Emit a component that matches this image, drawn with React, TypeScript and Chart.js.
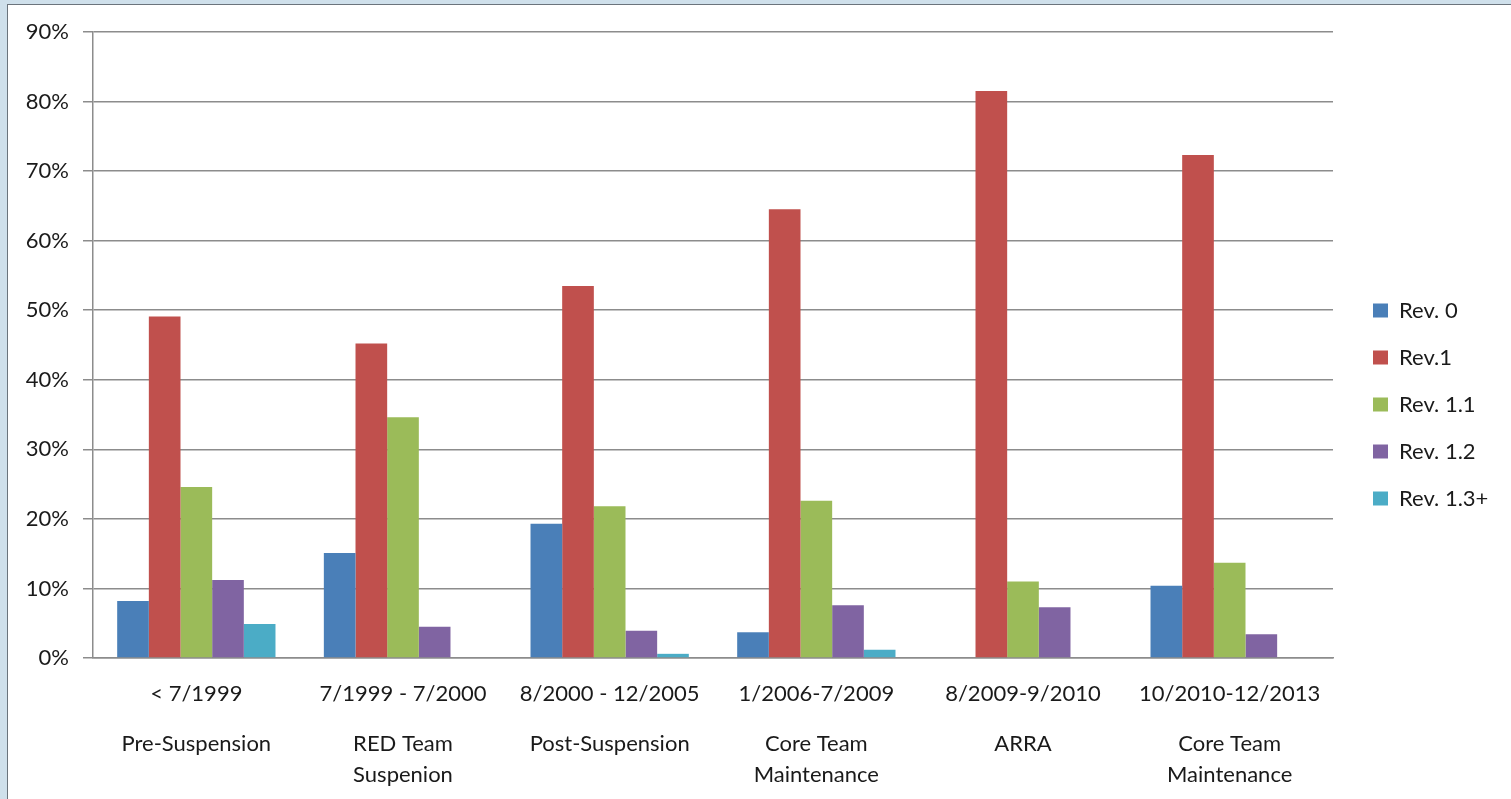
import React, { useEffect, useRef } from "react";
import { Chart, registerables } from "chart.js";

Chart.register(...registerables);

const periods = [
  "< 7/1999",
  "7/1999 - 7/2000",
  "8/2000 - 12/2005",
  "1/2006-7/2009",
  "8/2009-9/2010",
  "10/2010-12/2013",
];
const phases = [
  ["Pre-Suspension"],
  ["RED Team", "Suspenion"],
  ["Post-Suspension"],
  ["Core Team", "Maintenance"],
  ["ARRA"],
  ["Core Team", "Maintenance"],
];
const seriesNames = ["Rev. 0", "Rev.1", "Rev. 1.1", "Rev. 1.2", "Rev. 1.3+"];
const rev0 = [8.2, 15.1, 19.3, 3.7, 0, 10.4];
const rev1 = [49.1, 45.2, 53.5, 64.5, 81.5, 72.3];
const rev11 = [24.6, 34.6, 21.8, 22.6, 11.0, 13.7];
const rev12 = [11.2, 4.5, 3.9, 7.6, 7.3, 3.4];
const rev13 = [4.9, 0, 0.6, 1.2, 0, 0];
const seriesColors = ["#4a7fb8", "#c0504d", "#9bbb59", "#8064a2", "#4bacc6"];
const yMax = 90;
const yStep = 10;

const FONT = 'Lato, "Open Sans", sans-serif';
const TEXT = "#1a1a1a";
const GRID = "#8c8c8c";

export default function App() {
  const ref = useRef<HTMLCanvasElement | null>(null);

  useEffect(() => {
    if (!ref.current) return;
    const seriesData = [rev0, rev1, rev11, rev12, rev13];

    const legendFix = {
      id: "legendFix",
      afterInit(chart: any) {
        const lg = chart.legend;
        if (lg) {
          const orig = lg.fit.bind(lg);
          lg.fit = function () {
            orig();
            this.width = 178;
          };
        }
      },
      afterLayout(chart: any) {
        const lg = chart.legend;
        if (lg) {
          lg.left += 15;
          lg.right += 15;
          lg.top -= 11;
          lg.bottom -= 11;
        }
      },
    };

    const chart = new Chart(ref.current, {
      type: "bar",
      data: {
        labels: periods,
        datasets: seriesNames.map((name, i) => ({
          label: name,
          data: seriesData[i],
          backgroundColor: seriesColors[i],
          borderWidth: 0,
          categoryPercentage: 0.766,
          barPercentage: 1.0,
        })),
      },
      options: {
        responsive: false,
        animation: false,
        layout: { padding: { top: 32, left: 0, right: 0, bottom: 0 } },
        plugins: {
          tooltip: { enabled: false },
          legend: {
            position: "right",
            labels: {
              boxWidth: 15,
              boxHeight: 14,
              padding: 25,
              color: TEXT,
              font: { family: FONT, size: 22 },
            },
          },
        },
        scales: {
          x: {
            type: "category",
            position: "bottom",
            weight: 0,
            grid: { display: false, drawTicks: false },
            border: { display: true, color: GRID, width: 1.5 },
            ticks: {
              color: TEXT,
              font: { family: FONT, size: 22 },
              padding: 23,
              maxRotation: 0,
              autoSkip: false,
            },
            afterFit: (s: any) => {
              s.height = 58;
            },
          },
          x2: {
            type: "category",
            position: "bottom",
            weight: 1,
            labels: phases as any,
            offset: true,
            grid: { display: false, drawTicks: false },
            border: { display: false },
            ticks: {
              color: TEXT,
              font: { family: FONT, size: 22, lineHeight: 1.41 },
              padding: 12,
              maxRotation: 0,
              autoSkip: false,
            },
            afterFit: (s: any) => {
              s.height = 83;
            },
          },
          y: {
            min: 0,
            max: yMax,
            grid: { color: GRID, lineWidth: 1.5, drawTicks: true, tickLength: 10 },
            border: { display: true, color: GRID, width: 1.5 },
            ticks: {
              stepSize: yStep,
              color: TEXT,
              padding: 14,
              font: { family: FONT, size: 22 },
              callback: (v: any) => `${v}%`,
            },
            afterFit: (s: any) => {
              s.width = 93;
            },
          },
        },
      },
      plugins: [legendFix],
    });
    return () => chart.destroy();
  }, []);

  return (
    <div
      style={{
        position: "fixed",
        left: 0,
        top: 0,
        width: 1511,
        height: 799,
        overflow: "hidden",
        background: "#cfe0eb",
      }}
    >
      <div
        style={{
          position: "absolute",
          left: 7,
          top: 4,
          right: 0,
          bottom: 0,
          background: "#ffffff",
          borderLeft: "1px solid #6b747c",
          borderTop: "1px solid #6b747c",
        }}
      />
      <canvas
        ref={ref}
        width={1511}
        height={799}
        style={{ position: "absolute", left: 0, top: 0, width: 1511, height: 799 }}
      />
    </div>
  );
}
